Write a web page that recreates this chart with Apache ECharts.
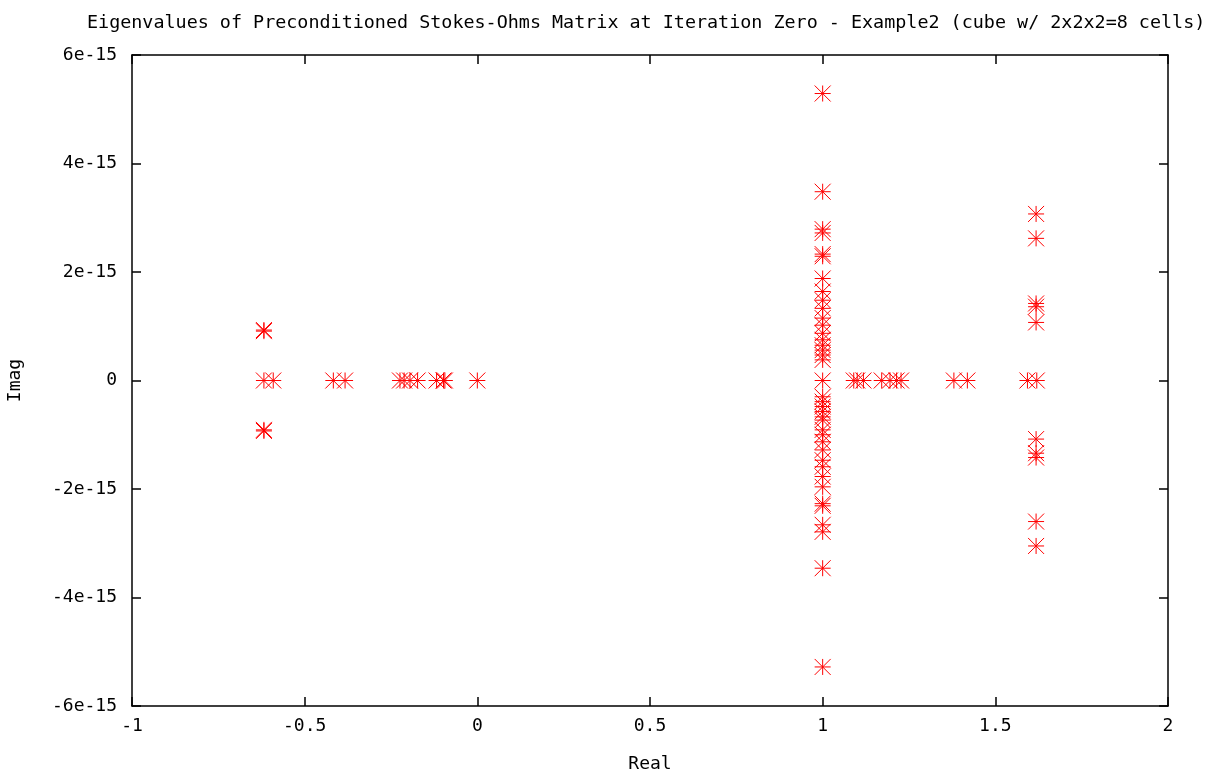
<!DOCTYPE html>
<html>
<head>
<meta charset="utf-8">
<script src="https://cdn.jsdelivr.net/npm/echarts@6/dist/echarts.min.js"></script>
<style>
  html, body { margin: 0; padding: 0; background: #fff; }
  #chart { width: 1209px; height: 770px; }
</style>
</head>
<body>
<div id="chart"></div>
<script>
// eigenvalues: real part, imaginary part (in units of 1e-15)
const realParts = [
  // left group
  -0.618, -0.618, -0.618, -0.618,
  -0.618, -0.591, -0.417, -0.383, -0.224, -0.212, -0.195, -0.173, -0.118, -0.098, -0.094, 0.0,
  // column at 1
  1, 1, 1, 1, 1, 1, 1, 1, 1, 1, 1, 1, 1, 1, 1, 1, 1, 1, 1,
  1, 1, 1, 1, 1, 1, 1, 1, 1, 1, 1, 1, 1, 1, 1, 1, 1, 1, 1, 1,
  // real axis right of 1
  1.090, 1.100, 1.118, 1.171, 1.195, 1.214, 1.227, 1.380, 1.419, 1.593, 1.620,
  // column at 1.618
  1.618, 1.618, 1.618, 1.618, 1.618, 1.618, 1.618, 1.618, 1.618, 1.618
]
const imagParts = [
  0.93, 0.91, -0.93, -0.91,
  0, 0, 0, 0, 0, 0, 0, 0, 0, 0, 0, 0,
  5.29, 3.48, 2.79, 2.72, 2.33, 2.29, 1.88, 1.64, 1.48, 1.33, 1.15, 1.02, 0.87, 0.75, 0.65, 0.56, 0.47, 0.38, 0,
  -0.30, -0.39, -0.48, -0.57, -0.67, -0.73, -0.91, -1.00, -1.13, -1.28, -1.47, -1.59, -1.77, -1.96, -2.27, -2.31, -2.66, -2.79, -3.46, -5.28,
  0, 0, 0, 0, 0, 0, 0, 0, 0, 0, 0,
  3.07, 2.62, 1.42, 1.36, 1.07, -1.08, -1.34, -1.42, -2.60, -3.05
]
const xTicks = [-1, -0.5, 0, 0.5, 1, 1.5, 2]
const yTicks = [-6, -4, -2, 0, 2, 4, 6]

const FONT = '"DejaVu Sans Mono", monospace'
const points = realParts.map((r, i) => [r, imagParts[i]])

// gnuplot style asterisk (plus + cross)
const asterisk = 'path://M0,8L16,8M8,0L8,16M0,0L16,16M16,0L0,16'

const chart = echarts.init(document.getElementById('chart'))

const axisCommon = {
  axisLine: { show: true, onZero: false, lineStyle: { color: '#000', width: 1.5 } },
  axisTick: { show: true, inside: true, length: 9, lineStyle: { color: '#000', width: 1.5 } },
  splitLine: { show: false }
}

chart.setOption({
  animation: false,
  backgroundColor: '#fff',
  title: {
    text: 'Eigenvalues of Preconditioned Stokes-Ohms Matrix at Iteration Zero - Example2 (cube w/ 2x2x2=8 cells)',
    left: 82,
    top: 9,
    textStyle: { fontFamily: FONT, fontSize: 18.4, fontWeight: 'normal', color: '#000' }
  },
  grid: { left: 132, right: 41, top: 55, bottom: 64, outerBoundsMode: 'none', containLabel: false },
  xAxis: [
    Object.assign({}, axisCommon, {
      type: 'value',
      min: xTicks[0],
      max: xTicks[xTicks.length - 1],
      interval: 0.5,
      position: 'bottom',
      name: 'Real',
      nameLocation: 'middle',
      nameGap: 49,
      nameTextStyle: { fontFamily: FONT, fontSize: 18, color: '#000' },
      axisLabel: { fontFamily: FONT, fontSize: 18, color: '#000', margin: 11, formatter: v => String(v) }
    }),
    Object.assign({}, axisCommon, {
      type: 'value',
      min: xTicks[0],
      max: xTicks[xTicks.length - 1],
      interval: 0.5,
      position: 'top',
      axisLabel: { show: false }
    })
  ],
  yAxis: [
    Object.assign({}, axisCommon, {
      type: 'value',
      min: yTicks[0],
      max: yTicks[yTicks.length - 1],
      interval: 2,
      position: 'left',
      name: 'Imag',
      nameLocation: 'middle',
      nameGap: 108,
      nameRotate: 90,
      nameTextStyle: { fontFamily: FONT, fontSize: 18, color: '#000' },
      axisLabel: {
        fontFamily: FONT, fontSize: 18, color: '#000', margin: 15,
        formatter: v => {
          const n = Math.round(v)
          return n === 0 ? '0' : n + 'e-15'
        }
      }
    }),
    Object.assign({}, axisCommon, {
      type: 'value',
      min: yTicks[0],
      max: yTicks[yTicks.length - 1],
      interval: 2,
      position: 'right',
      axisLabel: { show: false }
    })
  ],
  series: [
    {
      type: 'scatter',
      data: points,
      symbol: asterisk,
      symbolSize: 16,
      itemStyle: { color: '#ff0000', borderColor: '#ff0000', borderWidth: 1, opacity: 1 },
      emphasis: { disabled: true }
    }
  ]
})
</script>
</body>
</html>
